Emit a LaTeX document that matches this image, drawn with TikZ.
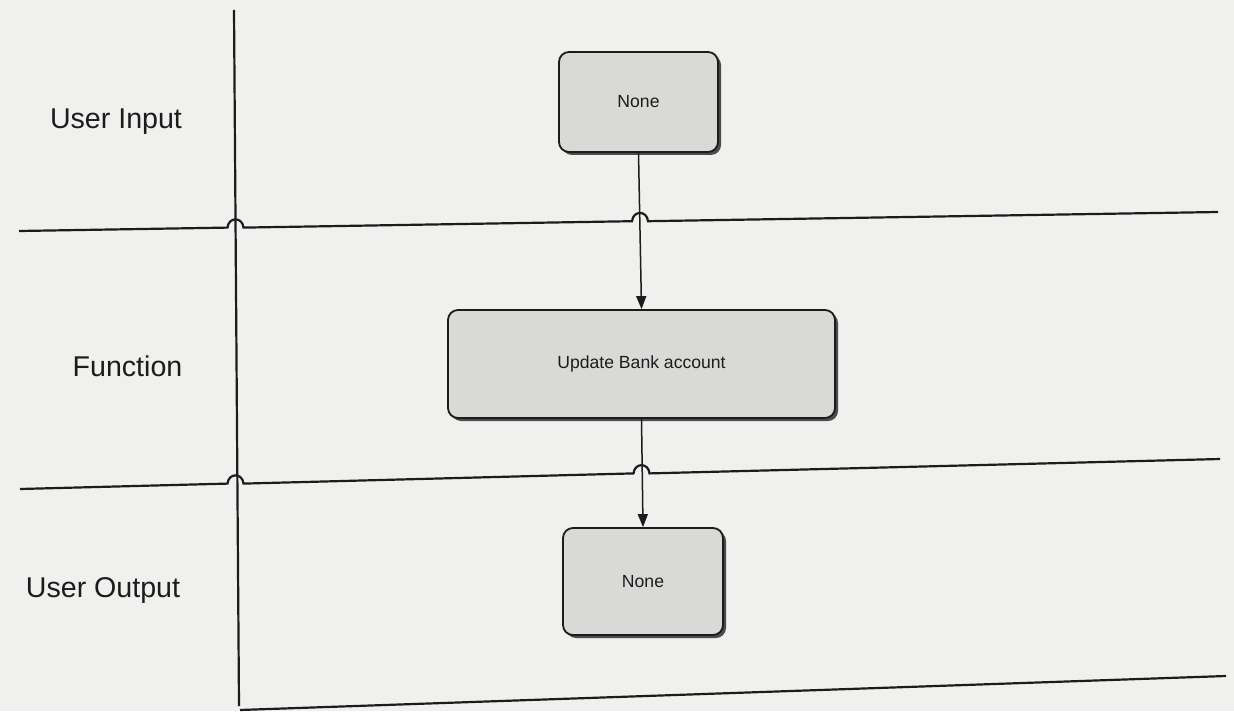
\documentclass[tikz,border=0pt]{standalone}
\usepackage{fontspec}
\setmainfont{Liberation Sans}
\usetikzlibrary{arrows.meta,shadows,calc}
\definecolor{pagebg}{HTML}{F0F0EE}
\definecolor{boxgray}{HTML}{D9D9D7}
\definecolor{inkc}{HTML}{1C1C1C}
\begin{document}
\begin{tikzpicture}[x=0.5pt,y=-0.5pt,
  lanelabel/.style={font=\fontsize{14.3}{17}\selectfont, text=inkc, anchor=base, inner sep=0pt},
  procbox/.style={draw=inkc, line width=0.9pt, rounded corners=5pt, fill=boxgray,
    font=\fontsize{8.8}{10.5}\selectfont, text=inkc, inner sep=0pt,
    drop shadow={shadow xshift=1.5pt, shadow yshift=-1.5pt, fill=black!70, opacity=1}},
  laneline/.style={line width=1.1pt, draw=inkc},
  flow/.style={line width=0.75pt, draw=inkc, -{Triangle[width=5pt,length=6.5pt]}}]
\fill[pagebg] (0,0) rectangle (1234,711);
\useasboundingbox (0,0) rectangle (1234,711);

% lane boundary end points and crossing points
\coordinate (Vt) at (234,10);
\coordinate (Vb) at (239,706);
\coordinate (L1s) at (19,231);
\coordinate (L1e) at (1218,212);
\coordinate (L2s) at (20,489);
\coordinate (L2e) at (1220,459);
\coordinate (L3s) at (240,710);
\coordinate (L3e) at (1226,676);
\coordinate (H1a) at (235.5,227.6);
\coordinate (H1b) at (640,221.2);
\coordinate (H2a) at (235.5,483.6);
\coordinate (H2b) at (641.5,473.4);

% vertical lane separator
\draw[laneline] (Vt) -- (Vb);

% horizontal lane separators with hops
\draw[laneline] (L1s) -- ($(H1a)+(-8,0)$)
  .. controls ($(H1a)+(-7,-11)$) and ($(H1a)+(7,-11)$) .. ($(H1a)+(8,0)$)
  -- ($(H1b)+(-8,0)$)
  .. controls ($(H1b)+(-7,-11)$) and ($(H1b)+(7,-11)$) .. ($(H1b)+(8,0)$)
  -- (L1e);
\draw[laneline] (L2s) -- ($(H2a)+(-8,0)$)
  .. controls ($(H2a)+(-7,-11)$) and ($(H2a)+(7,-11)$) .. ($(H2a)+(8,0)$)
  -- ($(H2b)+(-8,0)$)
  .. controls ($(H2b)+(-7,-11)$) and ($(H2b)+(7,-11)$) .. ($(H2b)+(8,0)$)
  -- (L2e);
\draw[laneline] (L3s) -- (L3e);

% lane labels
\node[lanelabel] (lin) at (116,129) {User Input};
\node[lanelabel] (lfn) at (127.5,376) {Function};
\node[lanelabel] (lout) at (103,597) {User Output};

% process boxes
\node[procbox, minimum width=79.5pt, minimum height=50pt] (b1) at (638.5,102) {None};
\node[procbox, minimum width=193.5pt, minimum height=54pt] (b2) at (641.5,364) {Update Bank account};
\node[procbox, minimum width=80pt, minimum height=53.5pt] (b3) at (643,581.5) {None};

% flow arrows
\draw[flow] (b1.south) -- (b2.north);
\draw[flow] (b2.south) -- (b3.north);
\end{tikzpicture}
\end{document}
